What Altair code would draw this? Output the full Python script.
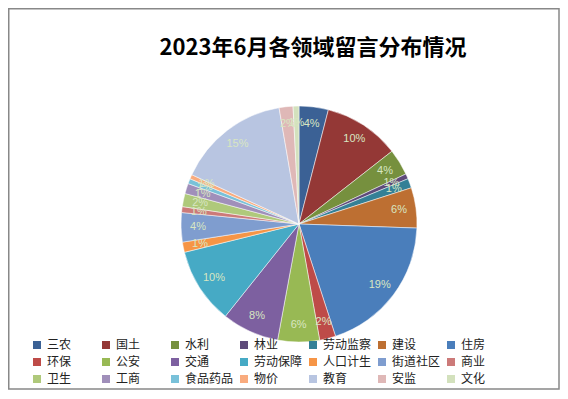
import altair as alt
import pandas as pd

title_text = "2023年6月各领域留言分布情况"

categories = ["三农", "国土", "水利", "林业", "劳动监察", "建设", "住房",
              "环保", "公安", "交通", "劳动保障", "人口计生", "街道社区", "商业",
              "卫生", "工商", "食品药品", "物价", "教育", "安监", "文化"]
shares = [4.0, 10.4, 3.6, 0.7, 1.3, 5.5, 19.4,
          2.2, 5.7, 7.8, 10.4, 1.4, 4.0, 0.8,
          1.8, 1.4, 0.7, 0.6, 15.4, 1.9, 0.8]
pct_labels = ["4%", "10%", "4%", "1%", "1%", "6%", "19%",
              "2%", "6%", "8%", "10%", "1%", "4%", "1%",
              "2%", "1%", "1%", "1%", "15%", "2%", "1%"]
colors = ["#3b6195", "#943836", "#76903e", "#5e4a7a", "#348096", "#bd6f32", "#4a7ebb",
          "#be4b48", "#98b954", "#7d60a0", "#46aac5", "#f69546", "#7f9dcf", "#cc7a79",
          "#afc97b", "#a08fba", "#79c1d9", "#f9ab7e", "#b8c5e1", "#dfb8b7", "#d3e1bd"]

df = pd.DataFrame({
    "类别": categories,
    "值": shares,
    "标签": pct_labels,
    "序": list(range(len(categories))),
})

W, H = 552, 382
cx, cy = 291, 216

base = alt.Chart(df).encode(
    theta=alt.Theta("值:Q", stack=True),
    order=alt.Order("序:Q", sort="ascending"),
)

pie = base.mark_arc(outerRadius=118, stroke="white", strokeWidth=0.5).encode(
    x=alt.value(cx),
    y=alt.value(cy),
    color=alt.Color(
        "类别:N",
        scale=alt.Scale(domain=categories, range=colors),
        sort=categories,
        legend=alt.Legend(
            orient="none", legendX=23, legendY=331, columns=7,
            direction="horizontal", title=None,
            symbolType="square", symbolSize=64, symbolStrokeWidth=0,
            labelFontSize=12, labelFont="Noto Sans CJK SC", labelColor="#222222",
            columnPadding=4, rowPadding=5, labelOffset=4,
            gridAlign="all", labelLimit=80,
        ),
    ),
)

labels = base.mark_text(radius=101, fontSize=11, font="Liberation Sans",
                        color="#d8e6c2").encode(
    x=alt.value(cx),
    y=alt.value(cy),
    text="标签:N",
)

title = alt.Chart(pd.DataFrame({"t": [title_text]})).mark_text(
    fontSize=22, fontWeight="bold", font="Noto Sans CJK SC", color="#000000"
).encode(
    x=alt.value(305),
    y=alt.value(40),
    text="t:N",
)

frame = alt.Chart(pd.DataFrame({"f": [0]})).mark_rect(
    fill="transparent", stroke="#888888", strokeWidth=1.5
).encode(
    x=alt.value(0.75), x2=alt.value(W - 1),
    y=alt.value(0.75), y2=alt.value(H - 1),
)

chart = alt.layer(frame, pie, labels, title).properties(
    width=W, height=H,
    autosize=alt.AutoSizeParams(type="none"),
    padding=0,
).configure_view(stroke=None)

chart.save("out.html", embed_options={"renderer": "svg", "actions": False})
